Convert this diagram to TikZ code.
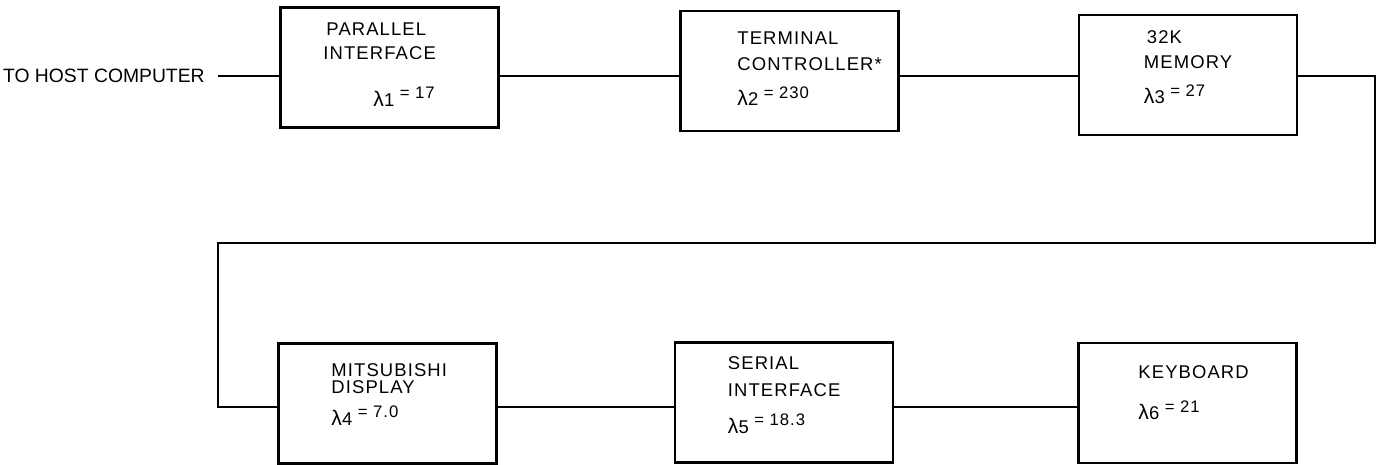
\documentclass[tikz,border=0pt]{standalone}
\usepackage{fontspec}
\setmainfont{Liberation Sans}
\newfontfamily\boxfont[LetterSpace=6]{Liberation Sans}
\usetikzlibrary{calc}

% failure rate label: lambda, index, raised value
\newcommand{\failrate}[2]{{\fontsize{12}{12}\selectfont λ}#1\hspace{0.3em}\raisebox{0.75ex}{\fontsize{9.5}{10}\selectfont = #2}}

\begin{document}
\begin{tikzpicture}[
		x=0.02cm, y=-0.02cm,
		unit/.style={draw, line width=1.6pt, minimum width=4.36cm, minimum height=2.4cm, inner sep=0pt},
		lbl/.style={anchor=base west, inner sep=0pt, font=\boxfont\fontsize{10.5}{12}\selectfont},
		wire/.style={line width=1.1pt}
		]
		\useasboundingbox (0,0) rectangle (1380,465);
		
		% ---------------------------------------------------------
		% Row heights of the connecting lines
		% ---------------------------------------------------------
		\coordinate (row1) at (0,76);
		\coordinate (row2) at (0,407);
		
		% ---------------------------------------------------------
		% Top row: host link, interface, controller, memory
		% ---------------------------------------------------------
		\node[anchor=east, inner sep=0pt, font=\fontsize{11}{13}\selectfont] (host) at (205,76) {TO HOST COMPUTER};
		
		\node[unit] (par) at (389.5,67.5) {};
		\node[lbl] (par-a) at ($(par.north west)+(47,29)$) {PARALLEL};
		\node[lbl] (par-b) at ($(par.north west)+(44,53)$) {INTERFACE};
		\node[lbl] (par-r) at ($(par.north west)+(94,100)$) {\failrate{1}{17}};
		
		\node[unit] (term) at (789.5,71) {};
		\node[lbl] (term-a) at ($(term.north west)+(58,35)$) {TERMINAL};
		\node[lbl] (term-b) at ($(term.north west)+(58,61)$) {CONTROLLER*};
		\node[lbl] (term-r) at ($(term.north west)+(58,96)$) {\failrate{2}{230}};
		
		\node[unit] (mem) at (1188,75) {};
		\node[lbl] (mem-a) at ($(mem.north west)+(69,30)$) {32K};
		\node[lbl] (mem-b) at ($(mem.north west)+(66,55)$) {MEMORY};
		\node[lbl] (mem-r) at ($(mem.north west)+(66,90)$) {\failrate{3}{27}};
		
		% ---------------------------------------------------------
		% Bottom row: display, serial interface, keyboard
		% ---------------------------------------------------------
		\node[unit] (disp) at (387.5,403.5) {};
		\node[lbl] (disp-a) at ($(disp.north west)+(54,34)$) {MITSUBISHI};
		\node[lbl] (disp-b) at ($(disp.north west)+(54,51)$) {DISPLAY};
		\node[lbl] (disp-r) at ($(disp.north west)+(54,83)$) {\failrate{4}{7.0}};
		
		\node[unit] (ser) at (784,402.5) {};
		\node[lbl] (ser-a) at ($(ser.north west)+(54,28)$) {SERIAL};
		\node[lbl] (ser-b) at ($(ser.north west)+(54,55)$) {INTERFACE};
		\node[lbl] (ser-r) at ($(ser.north west)+(54,92)$) {\failrate{5}{18.3}};
		
		\node[unit] (kbd) at (1187.5,403) {};
		\node[lbl] (kbd-a) at ($(kbd.north west)+(61,37)$) {KEYBOARD};
		\node[lbl] (kbd-r) at ($(kbd.north west)+(61,78)$) {\failrate{6}{21}};
		
		% ---------------------------------------------------------
		% Connecting lines
		% ---------------------------------------------------------
		\coordinate (hostend) at ($(host.east)+(13,0)$);
		\draw[wire] (hostend) -- (hostend -| par.west);
		\draw[wire] (par.east |- row1) -- (term.west |- row1);
		\draw[wire] (term.east |- row1) -- (mem.west |- row1);
		
		\coordinate (turnR) at (1375,243);
		\coordinate (turnL) at (218,407);
		\draw[wire] (mem.east |- row1) -| (turnR) -| (turnL) -- (disp.west |- row2);
		
		\draw[wire] (disp.east |- row2) -- (ser.west |- row2);
		\draw[wire] (ser.east |- row2) -- (kbd.west |- row2);
		
	\end{tikzpicture}
\end{document}
